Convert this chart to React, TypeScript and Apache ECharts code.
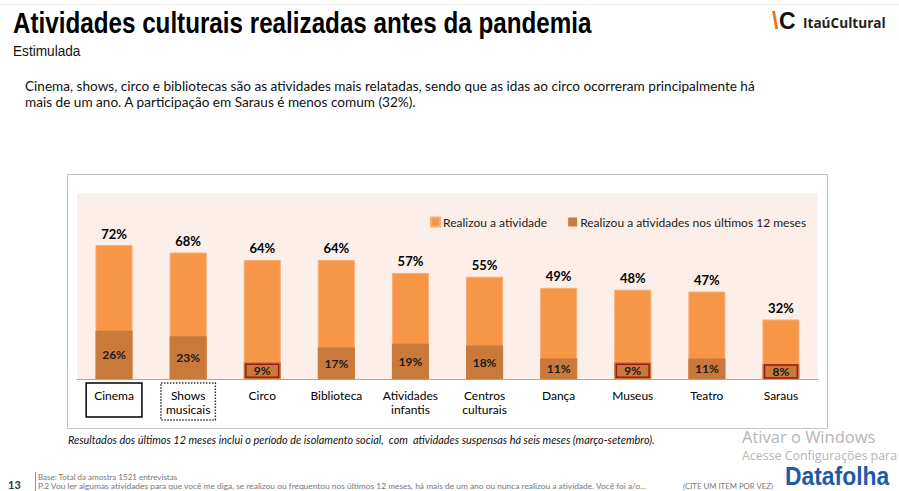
import React, { useEffect, useRef } from "react";
import * as echarts from "echarts";

const categories = [
  "Cinema",
  "Shows\nmusicais",
  "Circo",
  "Biblioteca",
  "Atividades\ninfantis",
  "Centros\nculturais",
  "Dança",
  "Museus",
  "Teatro",
  "Saraus",
];
const realizou = [72, 68, 64, 64, 57, 55, 49, 48, 47, 32];
const ultimos12 = [26, 23, 9, 17, 19, 18, 11, 9, 11, 8];
const highlighted = ["Circo", "Museus", "Saraus"];
const seriesNames = ["Realizou a atividade", "Realizou a atividades nos últimos 12 meses"];

const LIGHT = "#F79646";
const DARK = "#C97A3B";
const FONT = "Lato, 'Open Sans', sans-serif";

export default function App() {
  const ref = useRef<HTMLDivElement>(null);
  useEffect(() => {
    if (!ref.current) return;
    const chart = echarts.init(ref.current, null, { renderer: "svg" });
    const xData = categories.map((c) => {
      if (c === "Cinema")
        return {
          value: c,
          textStyle: { borderColor: "#000", borderWidth: 1.5, padding: [5, 8, 15, 8] },
        };
      if (c === "Shows\nmusicais")
        return {
          value: c,
          textStyle: { borderColor: "#333", borderWidth: 1.5, borderType: "dotted", padding: [5, 5, 4, 5] },
        };
      return { value: c };
    });
    const darkData = ultimos12.map((v, i) =>
      highlighted.includes(categories[i])
        ? {
            value: v,
            label: { borderColor: "#A0171A", borderWidth: 1.5, padding: [1, 8, 0, 8] },
          }
        : { value: v }
    );
    chart.setOption({
      animation: false,
      backgroundColor: "#fff",
      textStyle: { fontFamily: FONT },
      grid: {
        left: 77,
        right: 81,
        top: 193,
        bottom: 112,
        show: true,
        backgroundColor: "#FCEEE9",
        borderWidth: 0,
      },
      legend: {
        left: 425,
        top: 211,
        itemWidth: 9,
        itemHeight: 9,
        itemGap: 21,
        icon: "rect",
        textStyle: { fontFamily: FONT, fontSize: 12, color: "#222", padding: [0, 0, 0, -2] },
        data: seriesNames,
      },
      xAxis: {
        type: "category",
        data: xData,
        axisLine: { lineStyle: { color: "#A6A6A6", width: 1 } },
        axisTick: { length: 4, lineStyle: { color: "#A6A6A6" } },
        axisLabel: {
          interval: 0,
          margin: 4,
          color: "#000",
          fontFamily: FONT,
          fontSize: 12,
          lineHeight: 14,
          padding: [5, 0, 0, 0],
        },
      },
      yAxis: { type: "value", min: 0, max: 100, show: false, splitLine: { show: false } },
      series: [
        {
          name: seriesNames[0],
          type: "bar",
          data: realizou,
          barWidth: "50%",
          itemStyle: { color: LIGHT, borderColor: "#F6AE78", borderWidth: 1 },
          label: {
            show: true,
            position: "top",
            distance: 5,
            formatter: "{c}%",
            fontFamily: FONT,
            fontWeight: "bold",
            fontSize: 13,
            color: "#000",
          },
        },
        {
          name: seriesNames[1],
          type: "bar",
          data: darkData,
          barWidth: "50%",
          barGap: "-100%",
          itemStyle: { color: DARK },
          label: {
            show: true,
            position: "inside",
            formatter: "{c}%",
            fontFamily: FONT,
            fontWeight: "bold",
            fontSize: 12,
            color: "#1a1a1a",
          },
        },
      ],
      graphic: [
        { type: "line", shape: { x1: 0, y1: 4.5, x2: 899, y2: 4.5 }, style: { stroke: "#EEEEEE", lineWidth: 1 } },
        {
          type: "text",
          x: 13,
          y: 23,
          scaleX: 0.835,
          style: {
            text: "Atividades culturais realizadas antes da pandemia",
            fontFamily: "'Liberation Sans', Arial, sans-serif",
            fontWeight: "bold",
            fontSize: 29,
            fill: "#000",
            verticalAlign: "middle",
          },
        },
        {
          type: "text",
          x: 13,
          y: 51,
          scaleX: 0.94,
          style: {
            text: "Estimulada",
            fontFamily: "'Liberation Sans', Arial, sans-serif",
            fontSize: 14.5,
            fill: "#111",
            verticalAlign: "middle",
          },
        },
        {
          type: "text",
          x: 25,
          y: 86,
          style: {
            text: "Cinema, shows, circo e bibliotecas são as atividades mais relatadas, sendo que as idas ao circo ocorreram principalmente há",
            fontFamily: FONT,
            fontSize: 13.6,
            fill: "#111",
            verticalAlign: "middle",
          },
        },
        {
          type: "text",
          x: 25,
          y: 102,
          style: {
            text: "mais de um ano. A participação em Saraus é menos comum (32%).",
            fontFamily: FONT,
            fontSize: 13.6,
            fill: "#111",
            verticalAlign: "middle",
          },
        },
        // Itaú Cultural logo
        {
          type: "text",
          x: 772,
          y: 21,
          style: { text: "\\", fontFamily: "'Liberation Sans', Arial", fontWeight: "bold", fontSize: 23, fill: "#EC6B1F", verticalAlign: "middle" },
        },
        {
          type: "text",
          x: 779,
          y: 21,
          style: { text: "C", fontFamily: "'Liberation Sans', Arial", fontWeight: "bold", fontSize: 23, fill: "#111", verticalAlign: "middle" },
        },
        {
          type: "text",
          x: 803,
          y: 22,
          style: { text: "ItaúCultural", fontFamily: "'Open Sans', sans-serif", fontWeight: "bold", fontSize: 13.6, fill: "#222", verticalAlign: "middle" },
        },
        // chart frame
        {
          type: "rect",
          shape: { x: 67.5, y: 174.5, width: 760, height: 254 },
          style: { fill: "none", stroke: "#C4C4C4", lineWidth: 1 },
          z: -1,
        },
        {
          type: "text",
          x: 68,
          y: 439,
          style: {
            text: "Resultados dos últimos 12 meses inclui o período de isolamento social,  com  atividades suspensas há seis meses (março-setembro).",
            fontFamily: FONT,
            fontStyle: "italic",
            fontSize: 10.9,
            fill: "#111",
            verticalAlign: "middle",
          },
        },
        {
          type: "text",
          x: 742,
          y: 436,
          style: { text: "Ativar o Windows", fontFamily: "'Open Sans', sans-serif", fontSize: 16.5, fill: "#B5B5B5", verticalAlign: "middle" },
        },
        {
          type: "text",
          x: 742,
          y: 455,
          style: { text: "Acesse Configurações para", fontFamily: "'Open Sans', sans-serif", fontSize: 12.4, fill: "#B5B5B5", verticalAlign: "middle" },
        },
        {
          type: "text",
          x: 8,
          y: 484,
          style: { text: "13", fontFamily: FONT, fontWeight: "bold", fontSize: 11, fill: "#333", verticalAlign: "middle" },
        },
        { type: "line", shape: { x1: 35.5, y1: 472, x2: 35.5, y2: 491 }, style: { stroke: "#999", lineWidth: 1 } },
        {
          type: "text",
          x: 38,
          y: 477,
          style: { text: "Base: Total da amostra 1521 entrevistas", fontFamily: FONT, fontSize: 8, fill: "#777", verticalAlign: "middle" },
        },
        {
          type: "text",
          x: 38,
          y: 486,
          style: {
            text: "P.2 Vou ler algumas atividades para que você me diga, se realizou ou frequentou nos últimos 12 meses, há mais de um ano ou nunca realizou a atividade. Você foi a/o...",
            fontFamily: FONT,
            fontSize: 8.4,
            fill: "#777",
            verticalAlign: "middle",
          },
        },
        {
          type: "text",
          x: 683,
          y: 486,
          style: { text: "(CITE UM ITEM POR VEZ)", fontFamily: FONT, fontSize: 7.8, fill: "#777", verticalAlign: "middle" },
        },
        {
          type: "text",
          x: 785,
          y: 476,
          scaleX: 0.88,
          style: { text: "Datafolha", fontFamily: "'Liberation Sans', Arial", fontWeight: "900", fontSize: 26, fill: "#1E5AA8", verticalAlign: "middle" },
        },
      ],
    });
    return () => chart.dispose();
  }, []);
  return <div ref={ref} style={{ position: "fixed", left: 0, top: 0, width: 899, height: 491 }} />;
}
